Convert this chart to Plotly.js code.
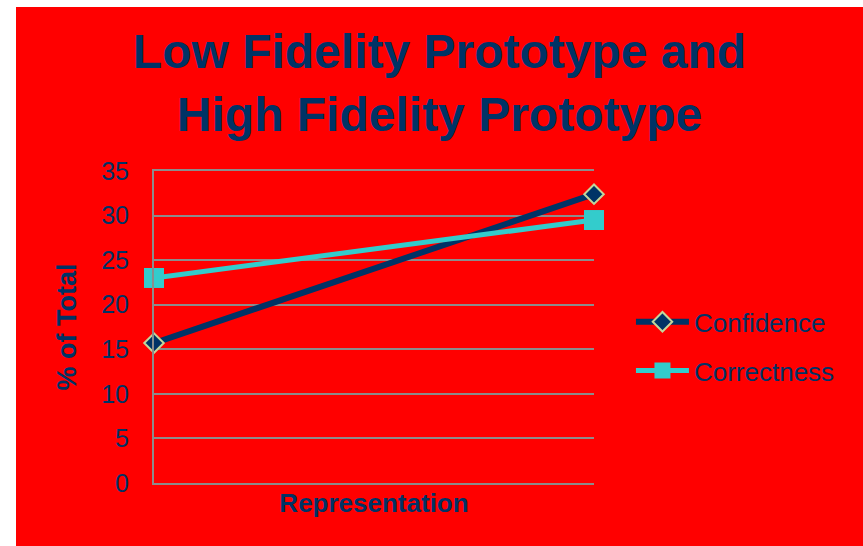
<!DOCTYPE html>
<html>
<head>
<meta charset="utf-8">
<script src="https://cdn.plot.ly/plotly-3.0.1.min.js"></script>
<style>
  html, body { margin: 0; padding: 0; background: #ffffff; }
  #chart { position: absolute; left: 16px; top: 7px; width: 847px; height: 539px; }
</style>
</head>
<body>
<div id="chart"></div>
<script>
// Two prototype stages compared on the share of participants
const representation = ['Low Fidelity', 'High Fidelity'];
const confidence = [15.7, 32.4];
const correctness = [23.0, 29.5];
const yTicks = [0, 5, 10, 15, 20, 25, 30, 35];

const navy = '#003366';
const grid = '#8C8C8C';
const font = 'Liberation Sans, Arial, sans-serif';

const traces = [
  {
    x: representation, y: confidence, name: 'Confidence',
    type: 'scatter', mode: 'lines+markers', legendgroup: 'a', cliponaxis: false,
    line: { color: navy, width: 6 },
    marker: { symbol: 'diamond', size: 15, color: navy, line: { color: '#C3D69B', width: 2 } }
  },
  {
    x: representation, y: correctness, name: 'Correctness',
    type: 'scatter', mode: 'lines+markers', legendgroup: 'b', cliponaxis: false,
    line: { color: '#33CCCC', width: 5 },
    marker: { symbol: 'square', size: 20, color: '#33CCCC' }
  }
];

const layout = {
  width: 847, height: 539,
  paper_bgcolor: '#FF0000', plot_bgcolor: '#FF0000',
  margin: { l: 138, r: 269, t: 164, b: 63 },
  font: { family: font, color: navy },
  title: {
    text: '<b>Low Fidelity Prototype and<br>High Fidelity Prototype</b>',
    font: { size: 48, color: navy, family: font },
    xref: 'container', x: 0.5, xanchor: 'center',
    yref: 'container', y: 0.886, yanchor: 'middle'
  },
  xaxis: {
    type: 'category', range: [0, 1],
    showticklabels: false, showgrid: false, zeroline: false,
    showline: true, mirror: true, linecolor: grid, linewidth: 2, ticks: '',
    title: { text: '<b>Representation</b>', font: { size: 26, color: navy }, standoff: 10 }
  },
  yaxis: {
    range: [0, 35], tickvals: yTicks,
    showgrid: true, gridcolor: grid, gridwidth: 2,
    showline: true, linecolor: grid, linewidth: 2,
    zeroline: false, ticks: '', ticklabelstandoff: 18,
    tickfont: { size: 25, color: navy },
    title: { text: '<b>% of Total</b>', font: { size: 27, color: navy }, standoff: 17 }
  },
  showlegend: true,
  legend: {
    x: 1.084, xanchor: 'left', y: 0.438, yanchor: 'middle',
    bgcolor: 'rgba(0,0,0,0)', font: { size: 26, color: navy },
    traceorder: 'grouped', tracegroupgap: 12, itemwidth: 53
  }
};

Plotly.newPlot('chart', traces, layout, { displayModeBar: false, staticPlot: true });
</script>
</body>
</html>
